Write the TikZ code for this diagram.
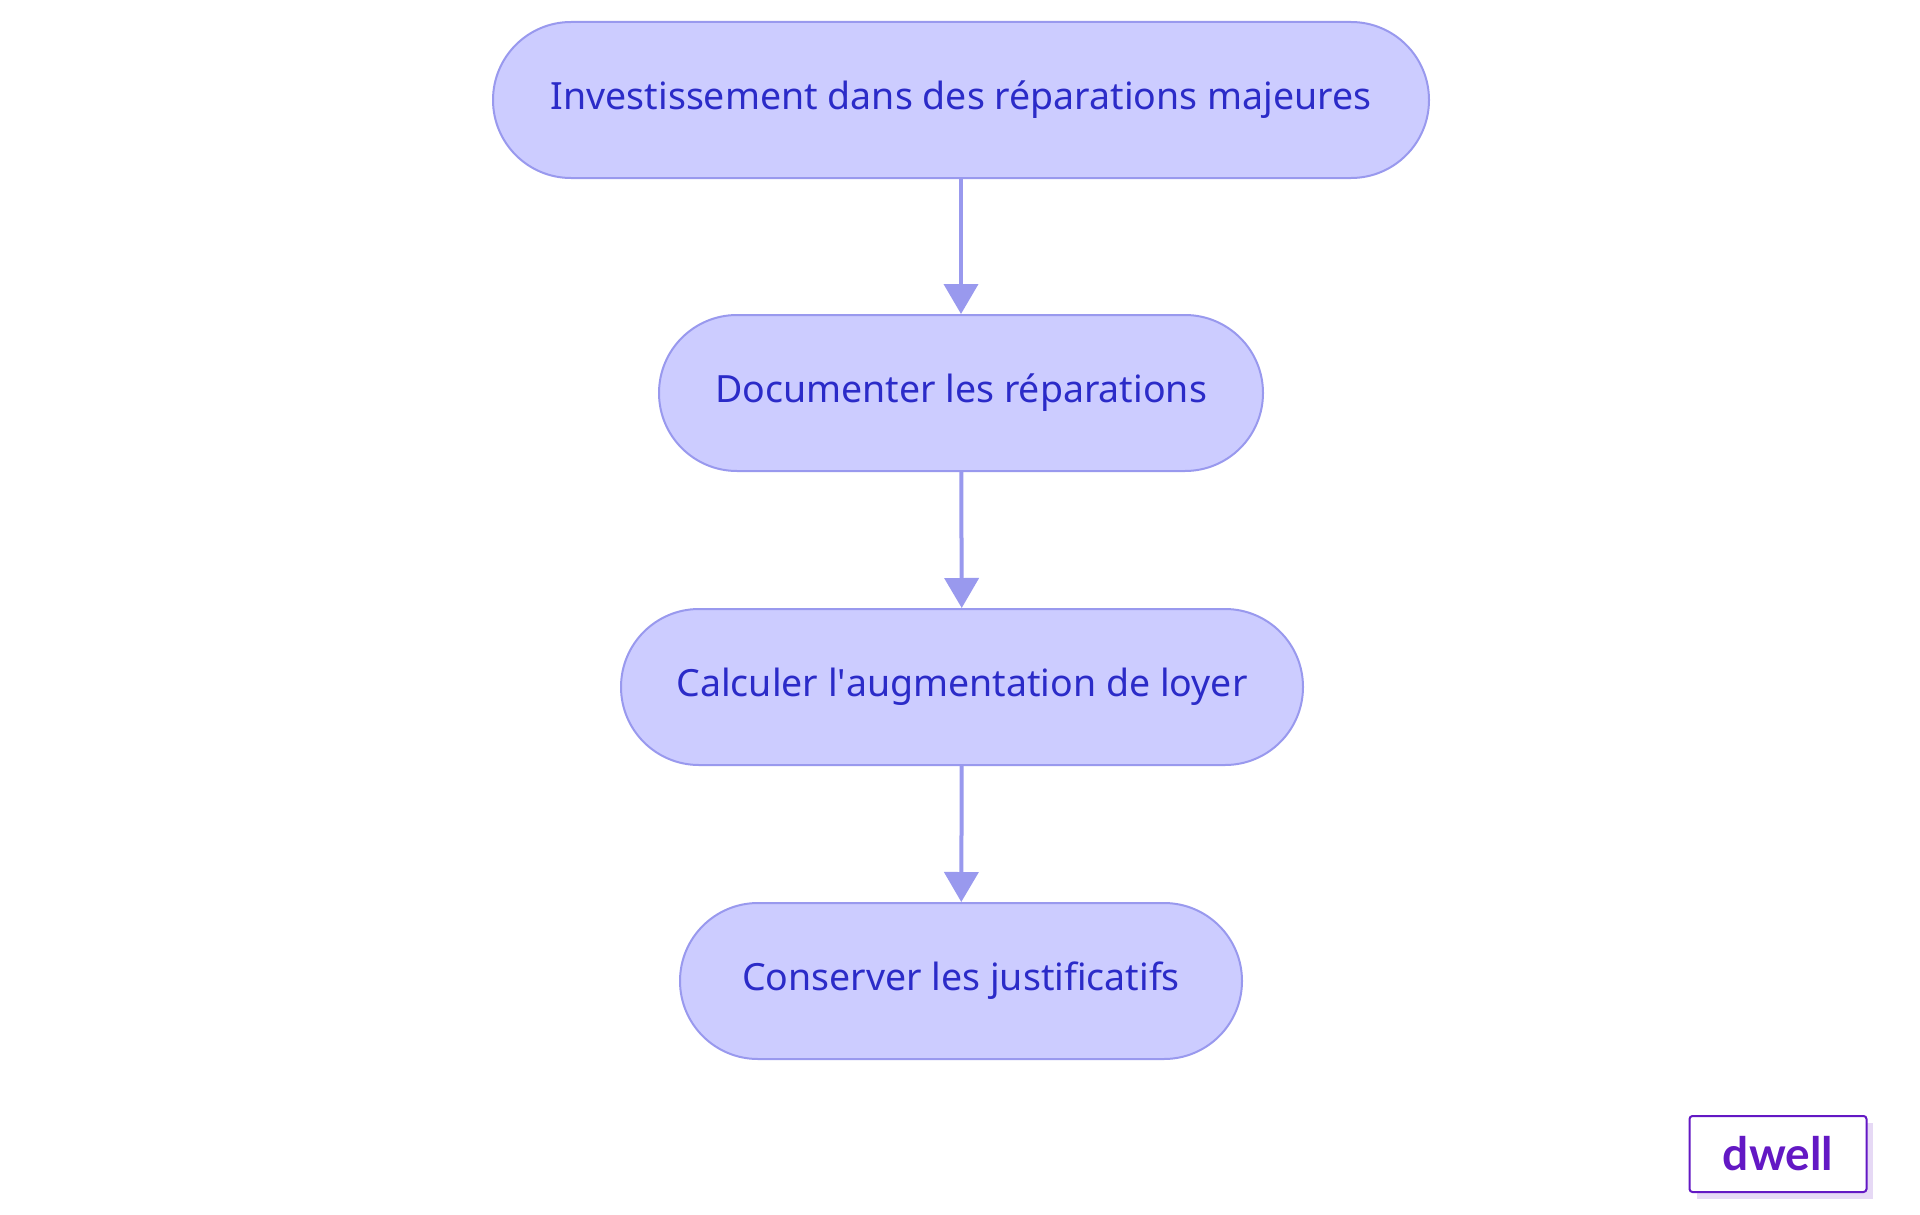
\documentclass[tikz,border=0pt]{standalone}
\usepackage{fontspec}
\setmainfont{Noto Sans}
\newfontfamily\logofont{Lato}
\usetikzlibrary{arrows.meta,shapes.misc}
\definecolor{nfill}{HTML}{CCCCFF}
\definecolor{nborder}{HTML}{9999EE}
\definecolor{ntext}{HTML}{2B2BC8}
\definecolor{logo}{HTML}{6318C4}
\definecolor{logoshadow}{HTML}{E6D9F5}
\begin{document}
\begin{tikzpicture}[x=1pt,y=-1pt,
  box/.style={rounded rectangle, draw=nborder, fill=nfill, line width=2pt, text=ntext, font=\fontsize{37.5}{44}\selectfont, minimum height=156pt, inner xsep=0pt},
  arr/.style={-{Triangle[length=30pt,width=34pt]}, draw=nborder, line width=4pt}]
\useasboundingbox[fill=white] (0,0) rectangle (1920,1215);
\node[box, minimum width=936pt] (a) at (961,100) {Investissement dans des réparations majeures};
\node[box, minimum width=604pt] (b) at (961,393) {Documenter les réparations};
\node[box, minimum width=682pt] (c) at (962,687) {Calculer l\textquotesingle augmentation de loyer};
\node[box, minimum width=562pt] (d) at (961,981) {Conserver les justificatifs};
\draw[arr] (a) -- (b);
\draw[arr] (b) -- (c);
\draw[arr] (c) -- (d);
\fill[logoshadow] (1697,1123) rectangle (1873,1199);
\node[draw=logo, fill=white, line width=2pt, rounded corners=3pt, minimum width=177pt, minimum height=76pt, text=logo, font=\logofont\fontsize{46}{50}\selectfont\bfseries] (logo) at (1778,1154) {dwell};
\end{tikzpicture}
\end{document}
